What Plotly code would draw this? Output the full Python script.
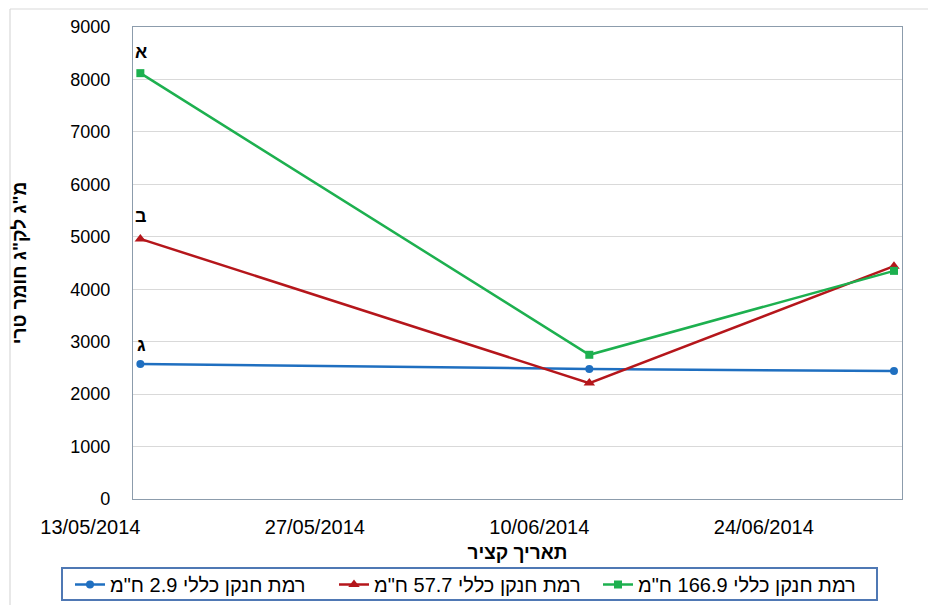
import plotly.graph_objects as go

# Harvest dates and dry-matter values per total-nitrogen level
dates = ["2014-05-13", "2014-06-10", "2014-06-29"]
n_166_9 = [8120, 2750, 4350]
n_57_7 = [4960, 2210, 4440]
n_2_9 = [2575, 2480, 2440]

series_names = ['רמת חנקן כללי 2.9 ח"מ', 'רמת חנקן כללי 57.7 ח"מ', 'רמת חנקן כללי 166.9 ח"מ']
group_letters = ["א", "ב", "ג"]

tick_dates = ["2014-05-13", "2014-05-27", "2014-06-10", "2014-06-24"]
y_ticks = [0, 1000, 2000, 3000, 4000, 5000, 6000, 7000, 8000, 9000]

W, H = 928, 605
L, R, T, B = 133, 26, 27, 106
pw, ph = W - L - R, H - T - B

def px_x(px):
    return (px - L) / pw

def px_y(py):
    return (H - B - py) / ph

font_family = "Liberation Sans, Arial, sans-serif"

fig = go.Figure()
fig.add_trace(go.Scatter(x=dates, y=n_2_9, name=series_names[0], mode="lines+markers",
                         line=dict(color="#1f6fc0", width=2.5),
                         marker=dict(symbol="circle", size=8, color="#1f6fc0")))
fig.add_trace(go.Scatter(x=dates, y=n_57_7, name=series_names[1], mode="lines+markers",
                         line=dict(color="#b5161b", width=2.5),
                         marker=dict(symbol="triangle-up", size=10, color="#b5161b")))
fig.add_trace(go.Scatter(x=dates, y=n_166_9, name=series_names[2], mode="lines+markers",
                         line=dict(color="#1db04f", width=2.5),
                         marker=dict(symbol="square", size=8, color="#1db04f")))

# Group letters above the first harvest point of each series
for letter, vals, shift in zip(group_letters, [n_166_9, n_57_7, n_2_9], [21, 23, 19]):
    fig.add_annotation(x=dates[0], y=vals[0], text=f"<b>{letter}</b>", showarrow=False,
                       yshift=shift, xshift=1, font=dict(size=18, color="#000000", family=font_family))

# Outer chart-area frame
frame = dict(type="line", xref="paper", yref="paper", line=dict(color="#d9d9d9", width=1.2), layer="below")
fig.add_shape(**frame, x0=px_x(10), x1=px_x(940), y0=px_y(9), y1=px_y(9))
fig.add_shape(**frame, x0=px_x(10), x1=px_x(10), y0=px_y(9), y1=px_y(620))

# Legend box
fig.add_shape(type="rect", xref="paper", yref="paper",
              x0=px_x(62), x1=px_x(877), y0=px_y(568), y1=px_y(600),
              line=dict(color="#4f78b4", width=2), fillcolor="rgba(0,0,0,0)")

fig.update_layout(
    width=W, height=H,
    margin=dict(l=L, r=R, t=T, b=B, autoexpand=False),
    paper_bgcolor="white", plot_bgcolor="white",
    font=dict(family=font_family, color="#000000"),
    showlegend=True,
    legend=dict(orientation="h", x=px_x(70), xanchor="left", y=px_y(565), yanchor="top",
                borderwidth=0, bgcolor="rgba(0,0,0,0)", font=dict(size=20),
                entrywidth=219, entrywidthmode="pixels", traceorder="normal"),
    xaxis=dict(type="date", range=["2014-05-12 13:00", "2014-06-29 12:00"],
               tickvals=tick_dates, tickformat="%d/%m/%Y", tickfont=dict(size=20),
               showgrid=False, showline=True, linecolor="#8c9cac", linewidth=1.2, mirror=True,
               ticks="", ticklabelstandoff=10, ticklabelshift=-50,
               title=dict(text="<b>תאריך קציר</b>", font=dict(size=19), standoff=8),
               zeroline=False),
    yaxis=dict(range=[0, 9000], tickvals=y_ticks, tickfont=dict(size=18),
               showgrid=True, gridcolor="#d9d9d9", gridwidth=1,
               showline=True, linecolor="#8c9cac", linewidth=1.2, mirror=True,
               ticks="", ticklabelstandoff=18,
               title=dict(text='<b>מ"ג לק"ג חומר טרי</b>', font=dict(size=19), standoff=38),
               zeroline=False),
)

fig.write_html("out.html")
